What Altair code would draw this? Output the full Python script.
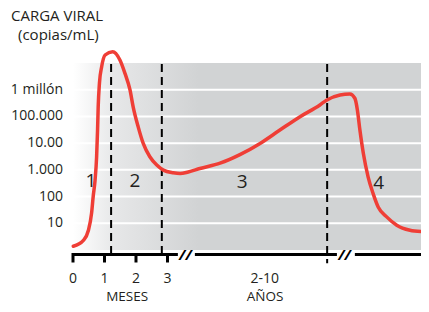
import altair as alt
import pandas as pd

# ---- data ----
# x: position along the (broken) time axis, in month-units; y: log10(copies/mL)
curve_x = [0.01, 0.33, 0.49, 0.59, 0.64, 0.70, 0.75, 0.78, 0.80, 0.84, 0.91, 1.02,
           1.26, 1.49, 1.65, 1.81, 1.91, 2.07, 2.23, 2.44, 2.66, 2.87, 3.18, 3.40,
           3.66, 4.03, 4.67, 5.30, 5.94, 6.57, 7.21, 7.84, 8.05, 8.48, 8.79, 8.95,
           9.03, 9.11, 9.22, 9.37, 9.53, 9.69, 9.96, 10.28, 10.70, 11.05]
curve_y = [0.14, 0.36, 0.74, 1.38, 1.99, 2.61, 3.49, 4.49, 5.36, 6.25, 6.86, 7.30,
           7.42, 7.11, 6.61, 5.99, 5.36, 4.61, 3.99, 3.49, 3.18, 2.99, 2.89, 2.86,
           2.92, 3.05, 3.25, 3.57, 3.99, 4.49, 4.99, 5.43, 5.61, 5.80, 5.84, 5.68,
           5.24, 4.49, 3.61, 2.74, 2.11, 1.61, 1.24, 0.93, 0.74, 0.69]

y_levels = [1, 2, 3, 4, 5, 6]
y_labels = ["10", "100", "1.000", "10.00", "100.000", "1 millón"]

phase_bounds = [1.21, 2.82, 8.07]
phase_bottoms = [-0.17, -0.17, -0.5]

phase_names = ["1", "2", "3", "4"]
phase_x = [0.57, 1.97, 5.37, 9.71]
phase_y = [2.58, 2.58, 2.55, 2.5]

month_ticks = [0, 1, 2, 3]
month_labels = ["0", "1", "2", "3"]

axis_seg_start = [0.0, 3.87, 8.95]
axis_seg_end = [3.33, 8.38, 11.05]
break_x = [3.57, 8.62]

group_names = ["MESES", "AÑOS"]
group_x = [1.72, 6.10]
years_label = "2-10"
years_x = 6.09

X_MAX = 11.05
Y_MAX = 7

RED = "#ef3e36"
GRAY = "#d1d3d4"
INK = "#231f20"
FONT = "Open Sans"

xs = alt.Scale(domain=[0, X_MAX], nice=False, zero=False)
ys = alt.Scale(domain=[0, Y_MAX], nice=False, zero=False)

# ---- background ----
bg_df = pd.DataFrame({"x": [0], "x2": [X_MAX], "y": [0], "y2": [Y_MAX]})
bg = alt.Chart(bg_df).mark_rect(
    color=alt.Gradient(
        gradient="linear",
        stops=[alt.GradientStop(color="#ffffff", offset=0),
               alt.GradientStop(color="#e6e7e8", offset=0.12),
               alt.GradientStop(color=GRAY, offset=0.36),
               alt.GradientStop(color=GRAY, offset=1)],
        x1=0, x2=1, y1=0, y2=0,
    )
).encode(
    x=alt.X("x:Q", scale=xs, axis=None), x2="x2:Q",
    y=alt.Y("y:Q", scale=ys, axis=None), y2="y2:Q",
)

grid_df = pd.DataFrame({"y": y_levels, "x": 0, "x2": X_MAX})
grid = alt.Chart(grid_df).mark_rule(color="white", strokeWidth=2).encode(
    x=alt.X("x:Q", scale=xs, axis=None), x2="x2:Q",
    y=alt.Y("y:Q", scale=ys, axis=None),
)

ylab_df = pd.DataFrame({"y": y_levels, "label": y_labels})
ylab = alt.Chart(ylab_df).mark_text(
    align="right", baseline="middle", font=FONT, fontSize=14, color=INK
).encode(
    x=alt.value(-10), y=alt.Y("y:Q", scale=ys, axis=None), text="label:N"
)

dash_df = pd.DataFrame({"x": phase_bounds, "y": [Y_MAX - 0.04] * 3, "y2": phase_bottoms})
dashes = alt.Chart(dash_df).mark_rule(color="black", strokeWidth=2, strokeDash=[8, 5]).encode(
    x=alt.X("x:Q", scale=xs, axis=None),
    y=alt.Y("y:Q", scale=ys, axis=None), y2="y2:Q",
)

curve_df = pd.DataFrame({"x": curve_x, "y": curve_y})
curve = alt.Chart(curve_df).mark_line(
    color=RED, strokeWidth=3.5, interpolate="monotone", strokeCap="round"
).encode(
    x=alt.X("x:Q", scale=xs, axis=None),
    y=alt.Y("y:Q", scale=ys, axis=None),
)

phase_df = pd.DataFrame({"x": phase_x, "y": phase_y, "label": phase_names})
phases = alt.Chart(phase_df).mark_text(
    font=FONT, fontSize=19, color=INK, baseline="middle", align="center"
).encode(
    x=alt.X("x:Q", scale=xs, axis=None),
    y=alt.Y("y:Q", scale=ys, axis=None), text="label:N",
)

seg_df = pd.DataFrame({"x": axis_seg_start, "x2": axis_seg_end})
segs = alt.Chart(seg_df).mark_rule(color="black", strokeWidth=3).encode(
    x=alt.X("x:Q", scale=xs, axis=None), x2="x2:Q", y=alt.value(191.5),
)

tick_df = pd.DataFrame({"x": month_ticks, "label": month_labels})
ticks = alt.Chart(tick_df).mark_rule(color="black", strokeWidth=3).encode(
    x=alt.X("x:Q", scale=xs, axis=None), y=alt.value(190), y2=alt.value(199.5),
)
tick_labels = alt.Chart(tick_df).mark_text(
    font=FONT, fontSize=14, color=INK, baseline="middle", align="center"
).encode(
    x=alt.X("x:Q", scale=xs, axis=None), y=alt.value(215.5), text="label:N",
)

brk_df = pd.DataFrame({"x": break_x, "label": ["//", "//"]})
breaks = alt.Chart(brk_df).mark_text(
    font=FONT, fontSize=15, fontWeight="bold", fontStyle="italic", color="black",
    baseline="middle", align="center"
).encode(
    x=alt.X("x:Q", scale=xs, axis=None), y=alt.value(192), text="label:N",
)

grp_df = pd.DataFrame({"x": group_x, "label": group_names})
groups = alt.Chart(grp_df).mark_text(
    font=FONT, fontSize=13.5, color=INK, baseline="bottom", align="center"
).encode(
    x=alt.X("x:Q", scale=xs, axis=None), y=alt.value(241), text="label:N",
)

yrs_df = pd.DataFrame({"x": [years_x], "label": [years_label]})
years = alt.Chart(yrs_df).mark_text(
    font=FONT, fontSize=14, color=INK, baseline="middle", align="center"
).encode(
    x=alt.X("x:Q", scale=xs, axis=None), y=alt.value(215.5), text="label:N",
)

title_lines = ["CARGA VIRAL", "(copias/mL)"]
title1 = alt.Chart(pd.DataFrame({"label": [title_lines[0]]})).mark_text(
    font=FONT, fontSize=15, color=INK, baseline="alphabetic", align="left"
).encode(x=alt.value(-62), y=alt.value(-42), text="label:N")
title2 = alt.Chart(pd.DataFrame({"label": [title_lines[1]]})).mark_text(
    font=FONT, fontSize=15, color=INK, baseline="middle", align="left"
).encode(x=alt.value(-55), y=alt.value(-28), text="label:N")

chart = alt.layer(
    bg, grid, dashes, curve, phases, ylab, segs, ticks, tick_labels, breaks,
    groups, years, title1, title2
).properties(
    width=348, height=187,
    autosize=alt.AutoSizeParams(type="none"),
    padding={"left": 65, "top": 55, "right": 0, "bottom": 54},
).configure_view(stroke=None)

chart.save("out.html", embed_options={"renderer": "svg", "actions": False})
